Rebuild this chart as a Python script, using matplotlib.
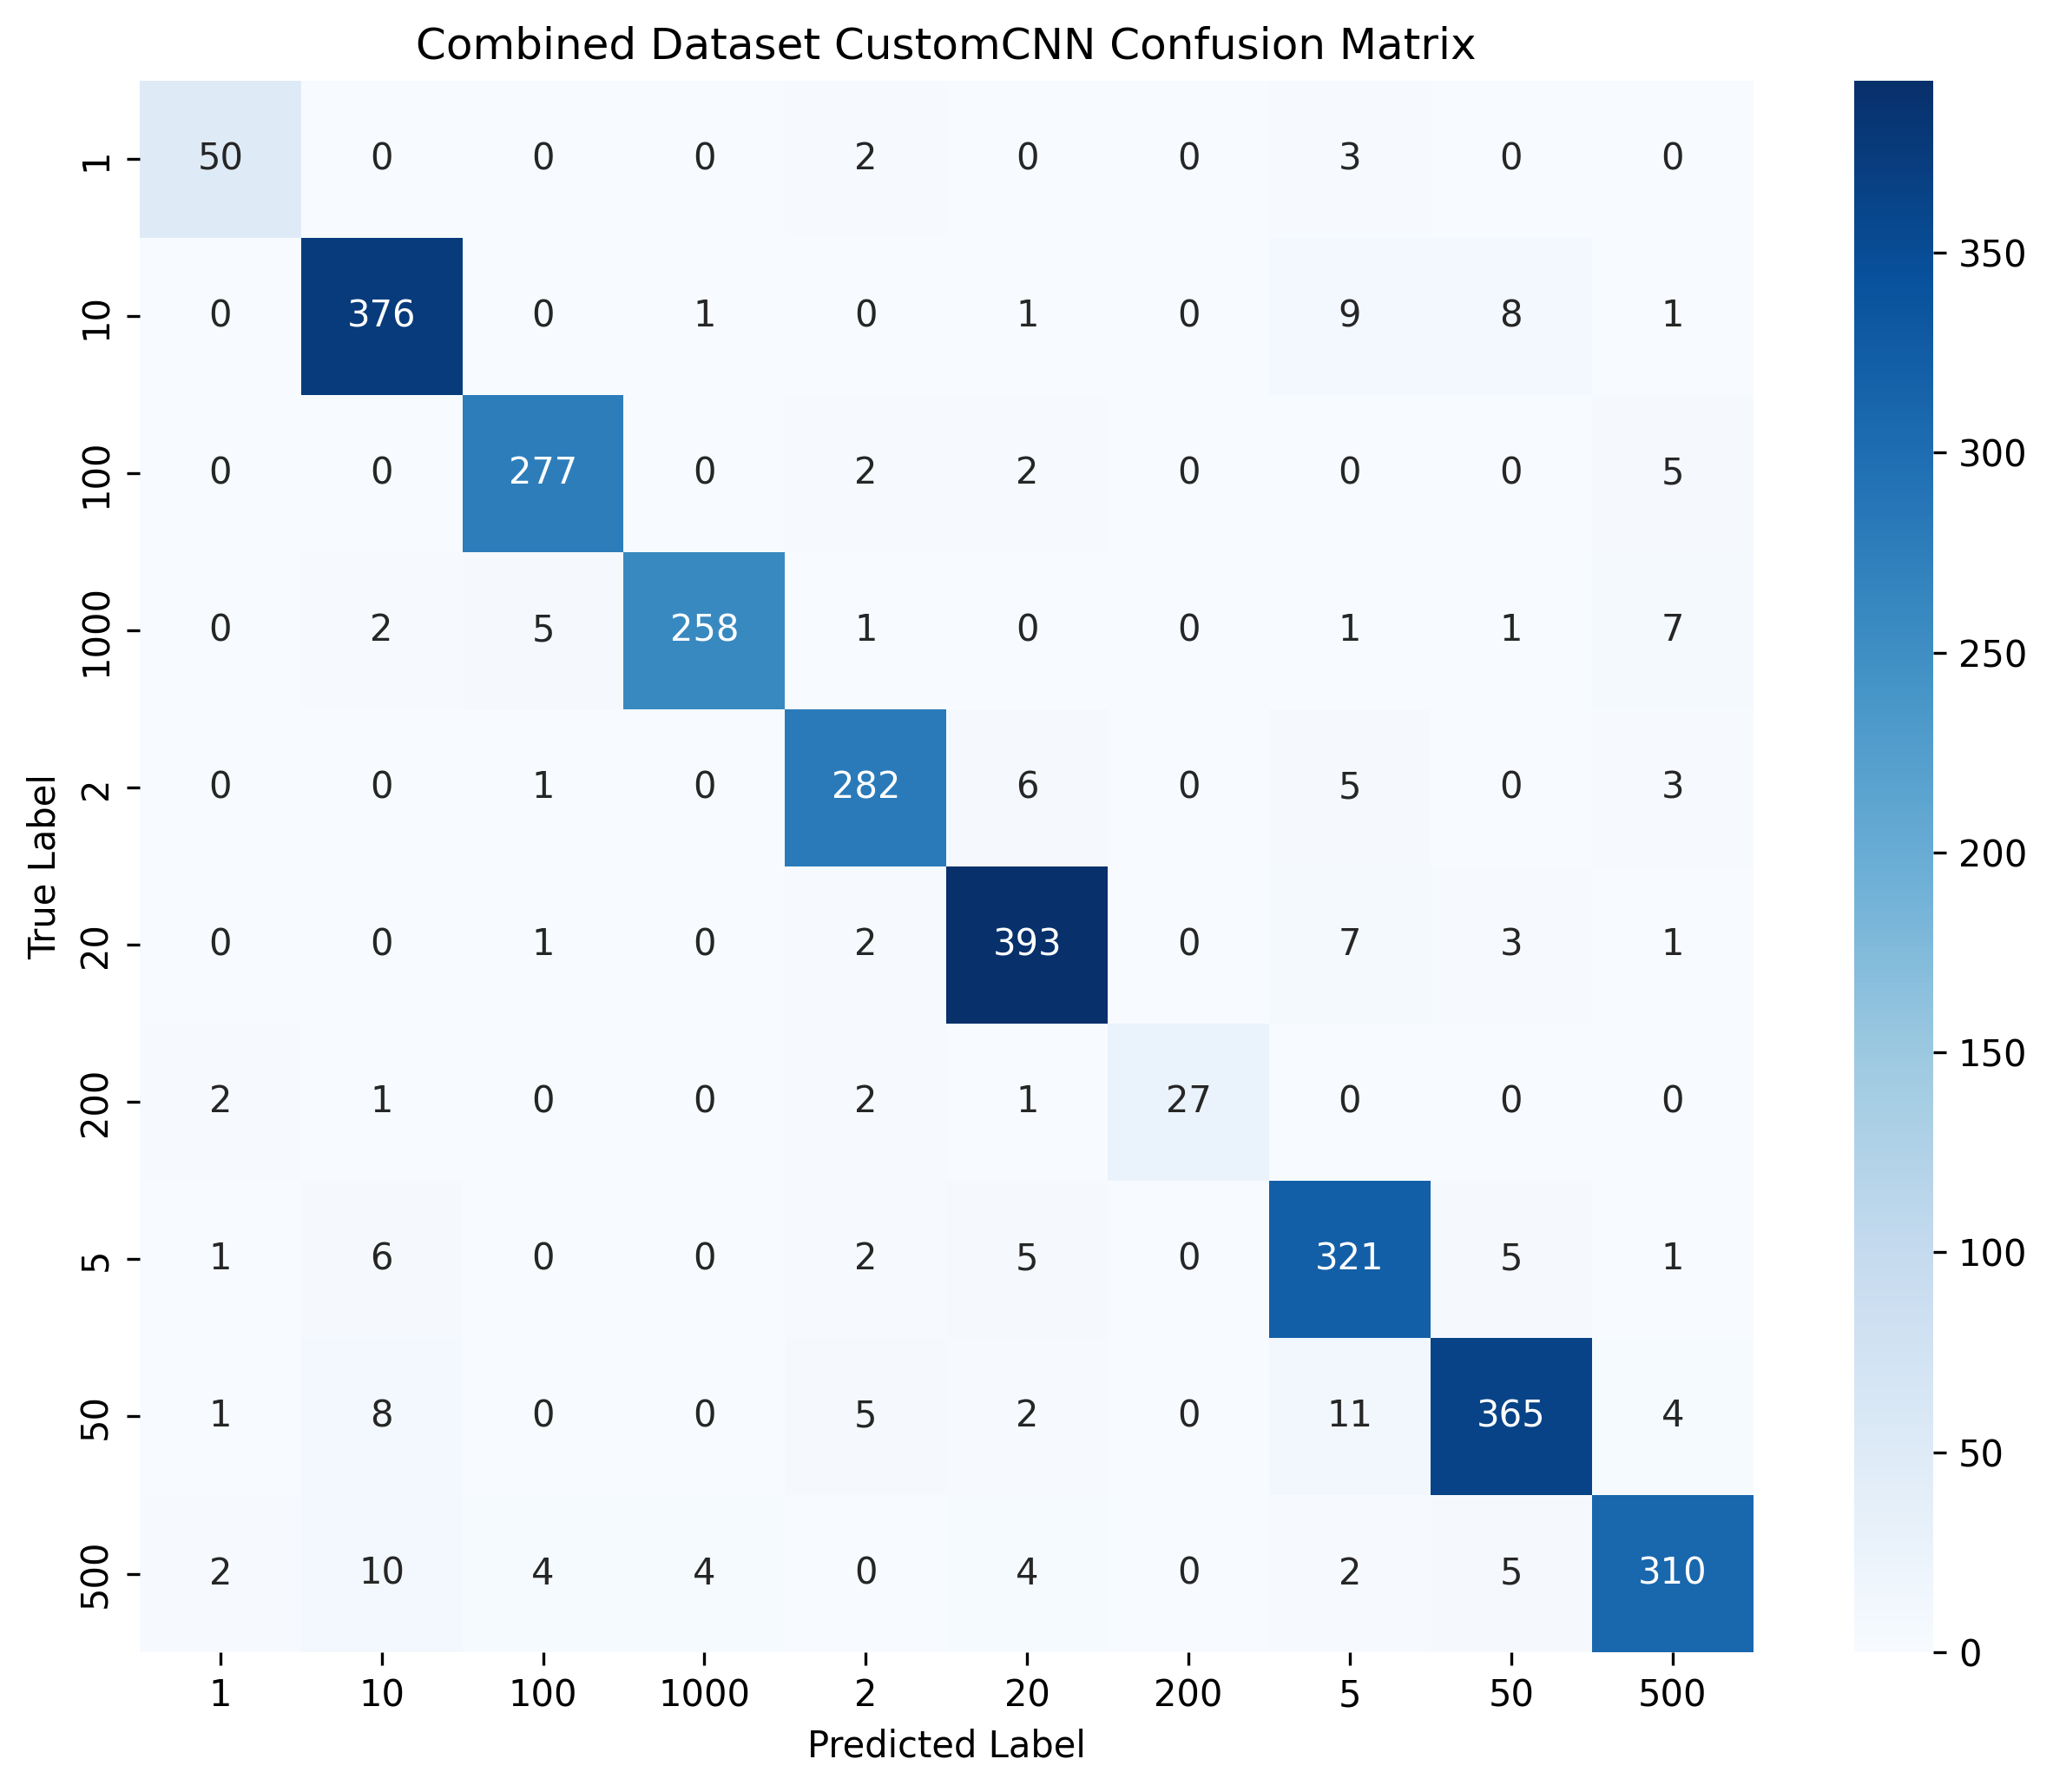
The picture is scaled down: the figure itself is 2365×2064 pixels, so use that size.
import matplotlib
matplotlib.use("Agg")
import matplotlib.pyplot as plt
import seaborn as sns
import numpy as np

labels = ["1", "10", "100", "1000", "2", "20", "200", "5", "50", "500"]
row_1 = [50, 0, 0, 0, 2, 0, 0, 3, 0, 0]
row_10 = [0, 376, 0, 1, 0, 1, 0, 9, 8, 1]
row_100 = [0, 0, 277, 0, 2, 2, 0, 0, 0, 5]
row_1000 = [0, 2, 5, 258, 1, 0, 0, 1, 1, 7]
row_2 = [0, 0, 1, 0, 282, 6, 0, 5, 0, 3]
row_20 = [0, 0, 1, 0, 2, 393, 0, 7, 3, 1]
row_200 = [2, 1, 0, 0, 2, 1, 27, 0, 0, 0]
row_5 = [1, 6, 0, 0, 2, 5, 0, 321, 5, 1]
row_50 = [1, 8, 0, 0, 5, 2, 0, 11, 365, 4]
row_500 = [2, 10, 4, 4, 0, 4, 0, 2, 5, 310]

cm = np.array([row_1, row_10, row_100, row_1000, row_2, row_20,
               row_200, row_5, row_50, row_500])

fig = plt.figure(figsize=(2365 / 300, 2064 / 300), dpi=300)
ax = fig.add_axes([0.068, 0.078, 0.786, 0.877])
cax = fig.add_axes([0.903, 0.078, 0.0385, 0.877])
sns.heatmap(cm, annot=True, fmt="d", cmap="Blues", xticklabels=labels,
            yticklabels=labels, ax=ax, cbar_ax=cax, annot_kws={"fontsize": 10})
ax.set_title("Combined Dataset CustomCNN Confusion Matrix", fontsize=12)
ax.set_xlabel("Predicted Label", fontsize=10)
ax.set_ylabel("True Label", fontsize=10)
ax.tick_params(labelsize=10)
cax.tick_params(labelsize=10)
plt.setp(ax.get_yticklabels(), rotation=90, va="center")
fig.savefig("out.png", dpi=300)
